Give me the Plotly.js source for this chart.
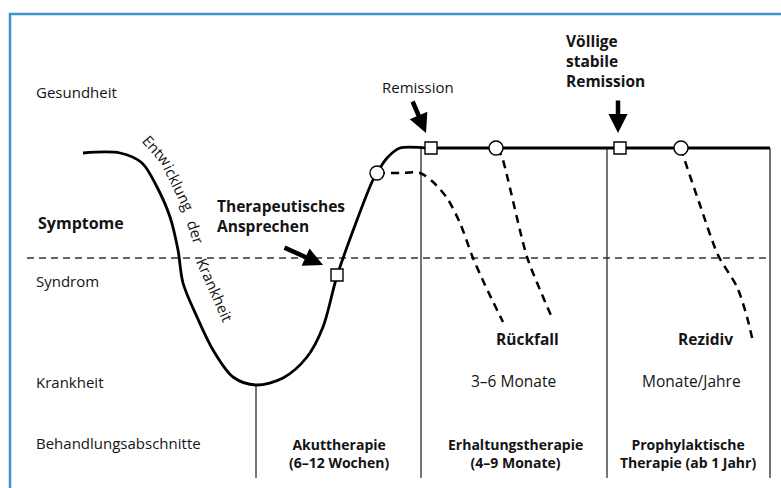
<!DOCTYPE html>
<html>
<head>
<meta charset="utf-8">
<script src="https://cdn.plot.ly/plotly-3.0.1.min.js"></script>
<style>html,body{margin:0;padding:0;background:#fff;}#chart{width:781px;height:488px;}</style>
</head>
<body>
<div id="chart"></div>
<script>
// ---- data (diagram units: x = course over time, y = depth of illness, 0 at top) ----
const courseX = [83, 120, 142, 157, 170, 178, 183, 197, 213, 233, 256, 283, 307, 323, 337, 357, 372, 377, 387, 400, 430, 496, 620, 681, 770];
const courseY = [153, 153, 163, 187, 217, 250, 283, 317, 350, 377, 385, 378, 357, 327, 276, 220, 182, 173, 158, 148, 148, 148, 148, 148, 148];

const relapse1X = [377, 400, 420, 433, 447, 460, 473, 485, 503];
const relapse1Y = [173, 173, 173, 182, 198, 223, 258, 285, 322];
const relapse2X = [497, 502, 527, 553];
const relapse2Y = [148, 157, 257, 320];
const relapse3X = [681, 683, 700, 718, 737, 747, 753];
const relapse3Y = [148, 155, 205, 255, 287, 317, 342];

const squareX = [337, 431, 620];
const squareY = [275, 148, 148];
const circleX = [377, 496, 681];
const circleY = [173, 148, 148];

const phaseBoundX = [256, 421, 607, 770];
const phaseBoundTop = [385, 148, 148, 148];
const phaseBoundBottom = 478;

const syndromeLineX = [27, 770];
const syndromeLineY = 258;

const levelLabels = ['Gesundheit', 'Symptome', 'Syndrom', 'Krankheit', 'Behandlungsabschnitte'];
const levelY = [92, 223, 281, 382, 443];
const levelBold = [false, true, false, false, false];

const phaseNames = ['Akuttherapie<br>(6–12 Wochen)', 'Erhaltungstherapie<br>(4–9 Monate)', 'Prophylaktische<br>Therapie (ab 1 Jahr)'];
const phaseCenterX = [339, 515, 688];
const durationLabels = ['3–6 Monate', 'Monate/Jahre'];
const durationX = [513, 691];
const outcomeLabels = ['Rückfall', 'Rezidiv'];
const outcomeX = [527, 705];

// curved caption "Entwicklung der Krankheit", split into pieces
const captionParts = ['Entw', 'icklung', 'der', 'Krankheit'];

// ---- build traces ----
const vx = [], vy = [];
phaseBoundX.forEach((x, i) => { vx.push(x, x, null); vy.push(phaseBoundTop[i], phaseBoundBottom, null); });

const traces = [
  {x: vx, y: vy, mode: 'lines', line: {color: '#3a3a3a', width: 1.4}, hoverinfo: 'skip'},
  {x: syndromeLineX, y: syndromeLineX.map(() => syndromeLineY), mode: 'lines',
   line: {color: '#333', width: 1.4, dash: '7px,5px'}, hoverinfo: 'skip'},
  {x: relapse1X, y: relapse1Y, mode: 'lines', line: {color: '#000', width: 2.5, dash: '8px,6px', shape: 'spline', smoothing: 0.8}, hoverinfo: 'skip'},
  {x: relapse2X, y: relapse2Y, mode: 'lines', line: {color: '#000', width: 2.5, dash: '8px,6px', shape: 'spline', smoothing: 0.6}, hoverinfo: 'skip'},
  {x: relapse3X, y: relapse3Y, mode: 'lines', line: {color: '#000', width: 2.5, dash: '8px,6px', shape: 'spline', smoothing: 0.8}, hoverinfo: 'skip'},
  {x: courseX, y: courseY, mode: 'lines', line: {color: '#000', width: 2.8, shape: 'spline', smoothing: 0.9}, hoverinfo: 'skip'},
  {x: squareX, y: squareY, mode: 'markers', marker: {symbol: 'square', size: 12, color: '#fff', line: {color: '#000', width: 1.4}}, hoverinfo: 'skip'},
  {x: circleX, y: circleY, mode: 'markers', marker: {symbol: 'circle', size: 14, color: '#fff', line: {color: '#000', width: 1.4}}, hoverinfo: 'skip'}
];

const FONT = 'Open Sans, Noto Sans, sans-serif';
const f = (s) => ({size: s, color: '#141414', family: FONT});
const ann = [];
levelLabels.forEach((t, i) => ann.push({x: levelBold[i] ? 36 : 34, y: levelY[i], text: levelBold[i] ? '<b>' + t + '</b>' : t,
  xanchor: 'left', yanchor: 'middle', showarrow: false, font: f(levelBold[i] ? 16 : 15)}));
phaseNames.forEach((t, i) => ann.push({x: phaseCenterX[i], y: 453, text: '<b>' + t + '</b>',
  xanchor: 'center', yanchor: 'middle', showarrow: false, font: f(14)}));
durationLabels.forEach((t, i) => ann.push({x: durationX[i], y: 381, text: t,
  xanchor: 'center', yanchor: 'middle', showarrow: false, font: f(15.5)}));
outcomeLabels.forEach((t, i) => ann.push({x: outcomeX[i], y: 339, text: '<b>' + t + '</b>',
  xanchor: 'center', yanchor: 'middle', showarrow: false, font: f(15.5)}));

ann.push({x: 380, y: 87, text: 'Remission', xanchor: 'left', yanchor: 'middle', showarrow: false, font: f(15)});
ann.push({x: 564, y: 61, text: '<b>Völlige<br>stabile<br>Remission</b>', align: 'left', xanchor: 'left', yanchor: 'middle', showarrow: false, font: f(15.5)});
ann.push({x: 215, y: 216, text: '<b>Therapeutisches<br>Ansprechen</b>', align: 'left', xanchor: 'left', yanchor: 'middle', showarrow: false, font: f(15.5)});

// caption pieces placed along the curve
const capPos = [[157, 150, 48], [179, 187, 64], [196, 232, 72], [215, 290, 66]];
captionParts.forEach((t, i) => ann.push({x: capPos[i][0], y: capPos[i][1], text: t, textangle: capPos[i][2],
  showarrow: false, font: f(15)}));

// arrows
const arrow = (x, y, ax, ay) => ({x: x, y: y, ax: ax, ay: ay, axref: 'x', ayref: 'y', text: '', showarrow: true,
  arrowhead: 2, arrowsize: 0.85, arrowwidth: 4.5, arrowcolor: '#000', standoff: 0});
ann.push(arrow(323, 265, 283, 247));
ann.push(arrow(426, 133, 412, 100));
ann.push(arrow(618, 133, 618, 99));

const layout = {
  width: 781, height: 488,
  margin: {l: 0, r: 0, t: 0, b: 0},
  paper_bgcolor: '#fff', plot_bgcolor: '#fff',
  showlegend: false,
  xaxis: {range: [0, 781], visible: false, fixedrange: true},
  yaxis: {range: [488, 0], visible: false, fixedrange: true},
  annotations: ann,
  shapes: [{type: 'path', xref: 'x', yref: 'y', path: 'M 10 520 L 10 14 L 820 14', line: {color: '#3d96d2', width: 2.5}}]
};

Plotly.newPlot('chart', traces, layout, {staticPlot: true, displayModeBar: false});
</script>
</body>
</html>
